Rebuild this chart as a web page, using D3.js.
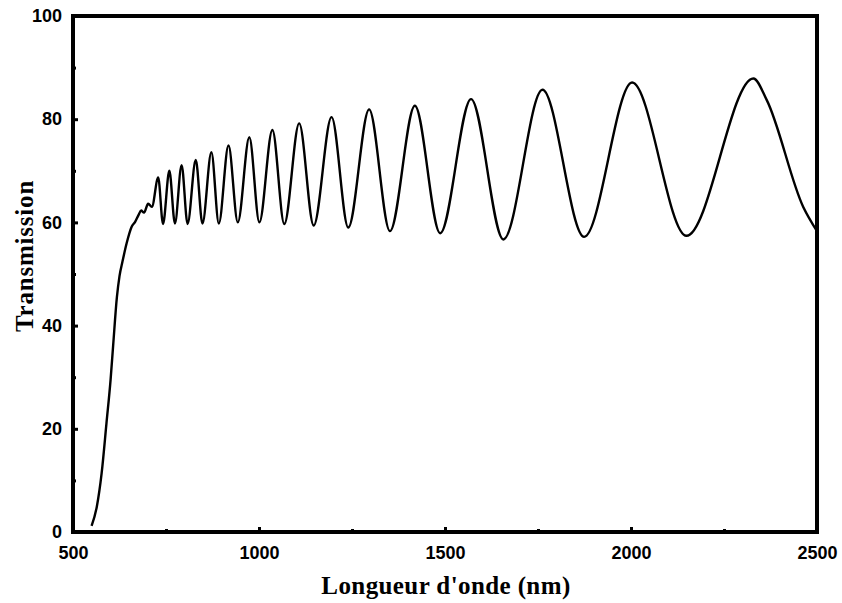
<!DOCTYPE html>
<html>
<head>
<meta charset="utf-8">
<script src="https://cdn.jsdelivr.net/npm/d3@7"></script>
<style>
  body { margin: 0; background: #fff; }
  .tick text { font-family: "Liberation Sans", Arial, sans-serif; font-weight: bold; font-size: 18px; fill: #000; }
  .title { font-family: "Liberation Serif", "Times New Roman", serif; font-weight: bold; font-size: 25px; fill: #000; }
</style>
</head>
<body>
<div id="viz"></div>
<script>
// values
const wavelength = [550, 564, 577, 590, 601, 608, 618, 625, 633, 644, 658, 667, 676, 683, 691, 702, 712,
  729, 742, 759, 774, 792, 808, 830, 848, 872, 892, 918, 943, 974, 1001, 1036, 1068,
  1108, 1147, 1195, 1240, 1296, 1352, 1419, 1487, 1570, 1657, 1762, 1874, 2003, 2149,
  2329, 2365, 2463, 2500];
const transmission = [1.2, 4.9, 11.4, 21.1, 29.5, 36.2, 45.5, 49.6, 52.4, 55.9, 59.2, 60.1, 61.4, 62.3, 61.9, 63.6, 63.0,
  68.7, 59.7, 70.0, 59.8, 71.1, 59.7, 72.1, 59.8, 73.6, 59.8, 74.9, 60.0, 76.5, 60.0, 77.9, 59.7,
  79.2, 59.4, 80.4, 59.0, 81.9, 58.3, 82.6, 57.9, 83.9, 56.7, 85.7, 57.2, 87.1, 57.4,
  87.9, 83.7, 63.0, 58.3];

const xTicks = [500, 1000, 1500, 2000, 2500];
const xMinor = [750, 1250, 1750, 2250];
const yTicks = [0, 20, 40, 60, 80, 100];
const yMinor = [10, 30, 50, 70, 90];

const fullWidth = 842;
const fullHeight = 603;
const margin = { top: 16, left: 73, right: 25, bottom: 71 };
const width = fullWidth - margin.left - margin.right;
const height = fullHeight - margin.top - margin.bottom;

const data = wavelength.map((w, i) => ({ x: w, y: transmission[i] }));

const svg = d3.select("#viz").append("svg")
  .attr("width", fullWidth)
  .attr("height", fullHeight);

const g = svg.append("g")
  .attr("transform", `translate(${margin.left},${margin.top})`);

const xScale = d3.scaleLinear().domain([500, 2500]).range([0, width]);
const yScale = d3.scaleLinear().domain([0, 100]).range([height, 0]);

// x axis, ticks pointing in
g.append("g")
  .attr("transform", `translate(0,${height})`)
  .call(d3.axisBottom(xScale).tickValues(xTicks).tickSize(-5).tickPadding(14).tickFormat(d3.format("d")));
g.append("g")
  .attr("transform", `translate(0,${height})`)
  .call(d3.axisBottom(xScale).tickValues(xMinor).tickSize(-3).tickFormat(""));

// y axis
g.append("g")
  .call(d3.axisLeft(yScale).tickValues(yTicks).tickSize(-5).tickPadding(11).tickFormat(d3.format("d")));
g.append("g")
  .call(d3.axisLeft(yScale).tickValues(yMinor).tickSize(-3).tickFormat(""));

g.selectAll(".domain").remove();
g.selectAll(".tick line").attr("stroke", "#000").attr("stroke-width", 3);

// frame
g.append("rect")
  .attr("x", 0).attr("y", 0)
  .attr("width", width).attr("height", height)
  .attr("fill", "none")
  .attr("stroke", "#000")
  .attr("stroke-width", 4);

// curve
const line = d3.line()
  .x(d => xScale(d.x))
  .y(d => yScale(d.y))
  .curve(d3.curveMonotoneX);

g.append("path")
  .datum(data)
  .attr("fill", "none")
  .attr("stroke", "#000")
  .attr("stroke-width", 2.4)
  .attr("stroke-linejoin", "round")
  .attr("d", line);

// axis titles
svg.append("text")
  .attr("class", "title")
  .attr("x", 446)
  .attr("y", 594)
  .attr("text-anchor", "middle")
  .style("letter-spacing", "0.4px")
  .text("Longueur d'onde (nm)");

svg.append("text")
  .attr("class", "title")
  .attr("transform", "translate(33,256) rotate(-90)")
  .attr("text-anchor", "middle")
  .style("letter-spacing", "0.8px")
  .text("Transmission");
</script>
</body>
</html>
